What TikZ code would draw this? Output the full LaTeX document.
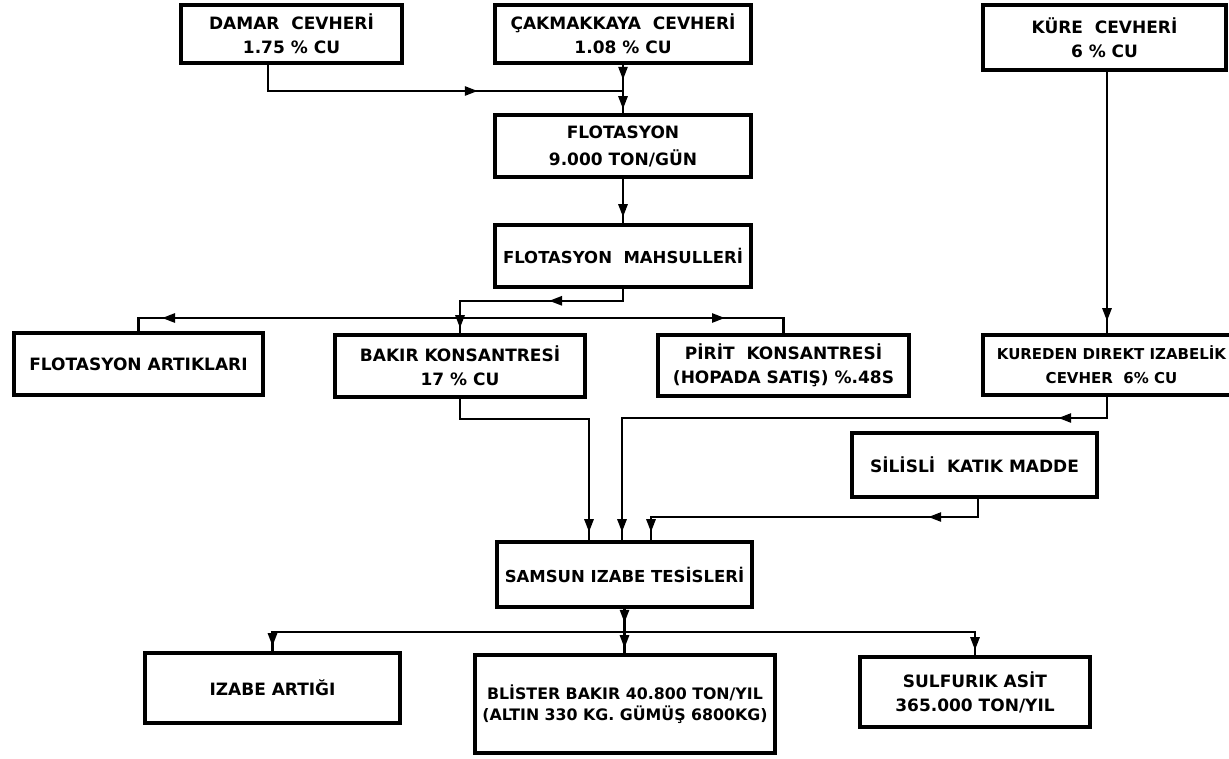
\documentclass[tikz,border=0pt]{standalone}
\usepackage{fontspec}
\setmainfont{DejaVu Sans}
\newfontfamily\bxfont{DejaVu Sans}
\usetikzlibrary{arrows.meta,decorations.markings}
\tikzset{
  box/.style={draw, line width=3.6pt, inner sep=0pt, align=center,
    font=\bxfont\bfseries\fontsize{17}{24}\selectfont},
  conn/.style={line width=2.6pt},
  tipat/.style={postaction={decorate, decoration={markings,
    mark=at position #1 with {\arrow{Triangle[length=13pt,width=9pt]}}}}},
}
\begin{document}
\begin{tikzpicture}[x=1pt,y=-1pt]
\useasboundingbox (0,0) rectangle (1229,758);
\fill[white] (0,0) rectangle (1229,758);

% boxes
\node[box, minimum width=221pt, minimum height=58pt] (damar) at (291.5,34) {DAMAR\ \ CEVHERİ\\1.75 \% CU};
\node[box, minimum width=256pt, minimum height=58pt] (cak) at (623,34) {ÇAKMAKKAYA\ \ CEVHERİ\\1.08 \% CU};
\node[box, minimum width=243pt, minimum height=65pt] (kure) at (1104.5,37.5) {KÜRE\ \ CEVHERİ\\6 \% CU};
\node[box, minimum width=256pt, minimum height=62pt, font=\bxfont\bfseries\fontsize{17}{27}\selectfont] (flot) at (623,146) {FLOTASYON\\9.000 TON/GÜN};
\node[box, minimum width=256pt, minimum height=62pt, font=\bxfont\bfseries\fontsize{16.5}{24}\selectfont] (mahs) at (623,256) {FLOTASYON\ \ MAHSULLERİ};
\node[box, minimum width=249pt, minimum height=62pt] (artik) at (138.5,364) {FLOTASYON ARTIKLARI};
\node[box, minimum width=250pt, minimum height=62pt] (bakir) at (460,366) {BAKIR KONSANTRESİ\\17 \% CU};
\node[box, minimum width=251pt, minimum height=61pt] (pirit) at (783.5,365.5) {PİRİT\ \ KONSANTRESİ\\(HOPADA SATIŞ) \%.48S};
\node[box, minimum width=257pt, minimum height=60pt, font=\bxfont\bfseries\fontsize{15}{24}\selectfont] (kureden) at (1111.5,365) {KUREDEN DIREKT IZABELİK\\CEVHER\ \ 6\% CU};
\node[box, minimum width=245pt, minimum height=64pt] (silis) at (974.5,465) {SİLİSLİ\ \ KATIK MADDE};
\node[box, minimum width=255pt, minimum height=65pt, font=\bxfont\bfseries\fontsize{16.5}{24}\selectfont] (samsun) at (624.5,574.5) {SAMSUN IZABE TESİSLERİ};
\node[box, minimum width=255pt, minimum height=70pt] (izabe) at (272.5,688) {IZABE ARTIĞI};
\node[box, minimum width=300pt, minimum height=98pt, font=\bxfont\bfseries\fontsize{15.8}{21}\selectfont] (blister) at (625,704) {BLİSTER BAKIR 40.800 TON/YIL\\(ALTIN 330 KG. GÜMÜŞ 6800KG)};
\node[box, minimum width=230pt, minimum height=70pt] (sulf) at (975,692) {SULFURIK ASİT\\365.000 TON/YIL};

% helper coordinates
\coordinate (dj) at (268,91);
\coordinate (j1) at (460,318);
\coordinate (kx) at (1107,0);
\coordinate (s1) at (589,419);
\coordinate (s2) at (622,418);
\coordinate (sx) at (978,0);
\coordinate (s3) at (651,517);
\coordinate (bus) at (624.5,632);

% connectors
\draw[conn, tipat=236pt] (damar.south -| dj) -- (dj) -- (dj -| cak.south);
\draw[conn, tipat=15pt, tipat=-4pt] (cak.south) -- (flot.north);
\draw[conn, tipat=-6pt] (flot.south) -- (mahs.north);
\draw[conn, tipat=86pt, tipat=-5pt] (mahs.south) -- ++(0,12) -| (bakir.north);
\draw[conn, tipat=298pt] (j1) -| (artik.north);
\draw[conn, tipat=265pt] (j1) -| (pirit.north);
\draw[conn, tipat=-12pt] (kure.south -| kx) -- (kureden.north -| kx);
\draw[conn, tipat=70pt, tipat=-8pt] (kureden.south -| kx) |- (s2) -- (s2 |- samsun.north);
\draw[conn, tipat=-8pt] (bakir.south) |- (s1) -- (s1 |- samsun.north);
\draw[conn, tipat=68pt, tipat=-8pt] (silis.south -| sx) |- (s3) -- (s3 |- samsun.north);
\draw[conn, tipat=14pt, tipat=-5pt] (samsun.south) -- (samsun.south |- blister.north);
\draw[conn, tipat=-5pt] (bus) -| (izabe.north);
\draw[conn, tipat=-5pt] (bus) -| (sulf.north);
\end{tikzpicture}
\end{document}
